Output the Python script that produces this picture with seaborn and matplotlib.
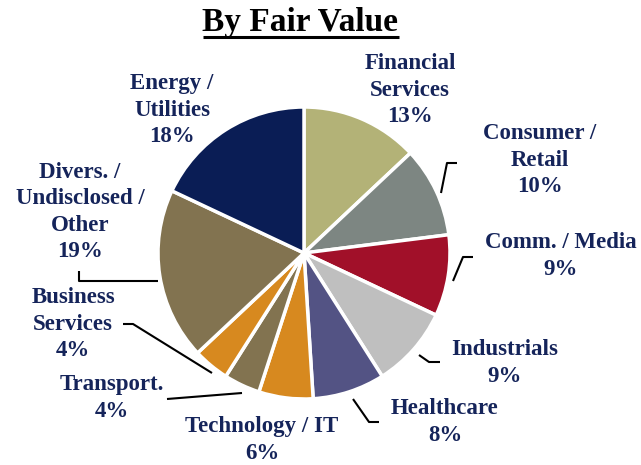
import matplotlib
matplotlib.use("Agg")
import matplotlib.pyplot as plt
import seaborn as sns

# ---- data ----
categories = ["Financial\nServices", "Consumer /\nRetail", "Comm. / Media", "Industrials",
              "Healthcare", "Technology / IT", "Transport.", "Business\nServices",
              "Divers. /\nUndisclosed /\nOther", "Energy /\nUtilities"]
values = [13, 10, 9, 9, 8, 6, 4, 4, 19, 18]
colors = ["#B3B277", "#7D8682", "#A11029", "#BFBFBF", "#535384",
          "#D7891F", "#827350", "#D7891F", "#827350", "#0A1D55"]
title = "By Fair Value"

# ---- layout (pixel coordinates, y measured from top) ----
W, H = 641, 465
label_pos = [(410, 90), (540, 160), (561, 256), (505, 363), (445, 422),
             (262, 440), (112, 398), (73, 324), (80, 212), (172, 110)]
leaders = [None,
           [(441, 193), (447, 163), (457, 163)],
           [(453, 281), (463, 257), (473, 257)],
           [(419, 355), (429, 362), (440, 362)],
           [(353, 399), (369, 422), (379, 422)],
           None,
           [(242, 393), (167, 399)],
           [(212, 373), (133, 324), (123, 324)],
           [(158, 281), (79, 281), (79, 271)],
           None]
center = (304, 253)
radius = 146

sns.set_theme(style="white")
plt.rcParams["font.family"] = ["Liberation Serif", "DejaVu Serif"]

fig = plt.figure(figsize=(W / 100, H / 100), dpi=100)
ax = fig.add_axes([0, 0, 1, 1])

ax.pie(values, colors=colors, startangle=90, counterclock=False,
       center=(center[0], H - center[1]), radius=radius,
       wedgeprops=dict(edgecolor="white", linewidth=2.5), frame=True)
ax.set_xlim(0, W)
ax.set_ylim(0, H)
ax.set_aspect("equal")
ax.axis("off")

navy = "#15245A"
for cat, v, (x, y) in zip(categories, values, label_pos):
    ax.text(x, H - y, f"{cat}\n{v}%", ha="center", va="center", fontsize=16.5,
            fontweight="bold", color=navy, linespacing=1.33, multialignment="center")

for path in leaders:
    if path:
        xs = [p[0] for p in path]
        ys = [H - p[1] for p in path]
        ax.plot(xs, ys, color="black", lw=1.5, solid_capstyle="butt")

t = ax.text(W / 2 - 20, H - 23, title, ha="center", va="center", fontsize=24,
            fontweight="bold", color="black")
fig.canvas.draw()
bb = t.get_window_extent()
ax.plot([bb.x0, bb.x1], [H - 37.5, H - 37.5], color="black", lw=2.2, solid_capstyle="butt")

fig.savefig("out.png", dpi=100)
